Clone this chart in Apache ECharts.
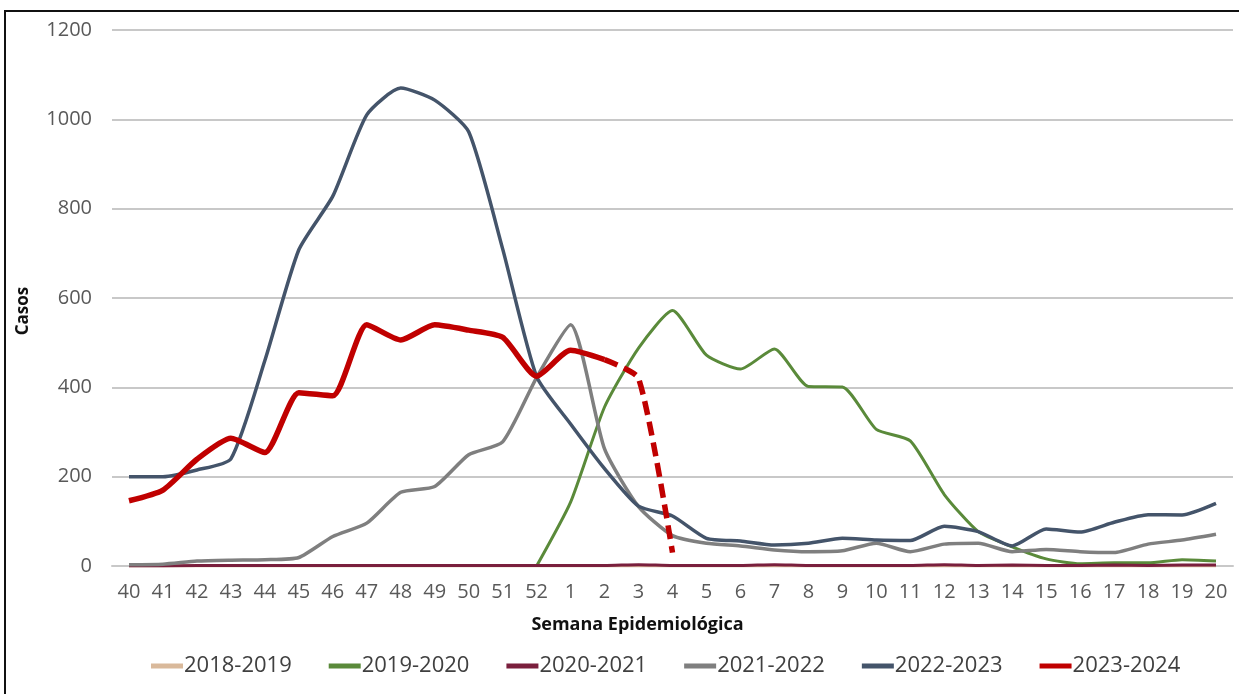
<!DOCTYPE html>
<html>
<head>
<meta charset="utf-8">
<script src="https://cdn.jsdelivr.net/npm/echarts@6/dist/echarts.min.js"></script>
<style>
html, body { margin: 0; padding: 0; background: #fff; }
#chart { width: 1239px; height: 694px; }
</style>
</head>
<body>
<div id="chart"></div>
<script>
// semanas epidemiologicas 40..52, 1..20
var semanas = ['40','41','42','43','44','45','46','47','48','49','50','51','52',
  '1','2','3','4','5','6','7','8','9','10','11','12','13','14','15','16','17','18','19','20'];

var s2018 = [0,0,0,0,0,0,0,0,0,0,0,0,0,
  0,0,0,0,0,0,0,0,0,0,0,0,0,0,0,0,0,0,0,0];
var s2019 = [null,null,null,null,null,null,null,null,null,null,null,null,0,
  143,356,488,572,472,441,486,402,401,306,280,160,77,43,16,5,7,7,14,11];
var s2020 = [0,0,1,1,1,1,1,1,1,1,1,1,1,
  1,1,3,1,1,1,3,1,1,1,1,3,1,2,1,1,2,1,2,2];
var s2021 = [3,4,11,13,14,19,66,96,165,178,249,278,422,
  540,262,133,68,51,45,36,32,34,51,32,49,51,32,37,32,30,49,58,71];
var s2022 = [200,200,215,240,460,708,828,1010,1070,1043,972,710,424,
  318,218,134,112,62,56,47,51,62,58,57,89,77,45,83,76,98,115,114,140];
// 2023-2024: tramo confirmado y tramo estimado (punteado)
var s2023 = [146,170,239,286,254,388,381,540,506,540,528,512,425,
  483,462,null,null,null,null,null,null,null,null,null,null,null,null,null,null,null,null,null,null];
var s2023est = [null,null,null,null,null,null,null,null,null,null,null,null,null,
  null,462,420,30,null,null,null,null,null,null,null,null,null,null,null,null,null,null,null,null];

var yTicks = [0, 200, 400, 600, 800, 1000, 1200];

var fuente = '"Open Sans", "DejaVu Sans", sans-serif';

function linea(name, data, color, width, extra) {
  var s = {
    name: name,
    type: 'line',
    data: data,
    symbol: 'none',
    smooth: 0.2,
    lineStyle: { color: color, width: width },
    itemStyle: { color: color },
    emphasis: { disabled: true },
    animation: false
  };
  if (extra) {
    for (var k in extra) s.lineStyle[k] = extra[k];
  }
  return s;
}

var myChart = echarts.init(document.getElementById('chart'));

var option = {
  backgroundColor: '#fff',
  textStyle: { fontFamily: fuente },
  graphic: [{
    type: 'rect',
    shape: { x: 5, y: 11, width: 1300, height: 800 },
    style: { fill: 'none', stroke: '#111', lineWidth: 2 },
    silent: true
  }],
  grid: { left: 112, right: 6, top: 30, bottom: 128 },
  legend: {
    bottom: 12,
    left: 146,
    icon: 'rect',
    itemWidth: 32,
    itemHeight: 5,
    itemGap: 37,
    textStyle: { fontSize: 22, color: '#404040', fontFamily: fuente, padding: [0, 0, 0, -4] },
    data: ['2018-2019', '2019-2020', '2020-2021', '2021-2022', '2022-2023', '2023-2024']
  },
  xAxis: {
    type: 'category',
    data: semanas,
    boundaryGap: true,
    name: 'Semana Epidemiológica',
    nameLocation: 'middle',
    nameGap: 50,
    nameTextStyle: { fontSize: 18, fontWeight: 'bold', color: '#111', fontFamily: fuente, padding: [0, 70, 0, 0] },
    axisLine: { lineStyle: { color: '#c8c8c8', width: 2 } },
    axisTick: { show: false },
    axisLabel: { fontSize: 20, color: '#595959', margin: 16, interval: 0 }
  },
  yAxis: {
    type: 'value',
    min: yTicks[0],
    max: yTicks[yTicks.length - 1],
    interval: 200,
    name: 'Casos',
    nameLocation: 'middle',
    nameGap: 80,
    nameTextStyle: { fontSize: 17, fontWeight: 'bold', color: '#111', fontFamily: fuente, padding: [0, 26, 0, 0] },
    axisLine: { show: false },
    axisTick: { show: false },
    axisLabel: { fontSize: 20, color: '#595959', margin: 20, formatter: function (v) { return String(v); } },
    splitLine: { lineStyle: { color: '#c8c8c8', width: 2 } }
  },
  series: [
    linea('2018-2019', s2018, '#d9b99b', 3),
    linea('2019-2020', s2019, '#5a8a3a', 3),
    linea('2020-2021', s2020, '#7a1f3d', 3),
    linea('2021-2022', s2021, '#7f7f7f', 3.5),
    linea('2022-2023', s2022, '#44546a', 3.5),
    linea('2023-2024', s2023, '#c00000', 5.5),
    linea('2023-2024', s2023est, '#c00000', 5.5, { type: [14, 7] })
  ]
};

myChart.setOption(option);
</script>
</body>
</html>
